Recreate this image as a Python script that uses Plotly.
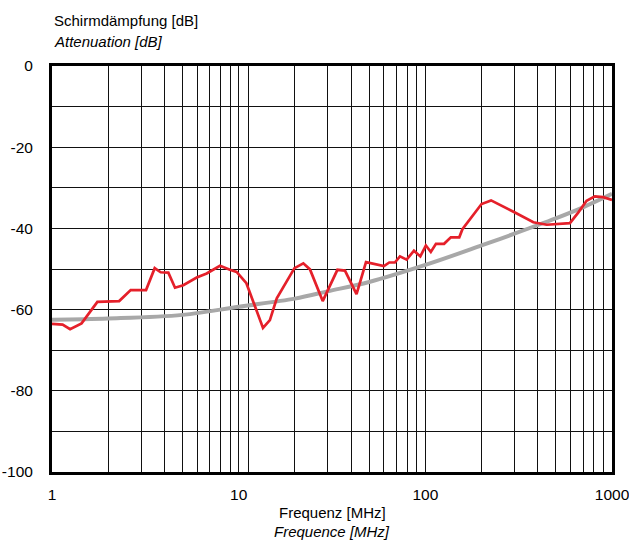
import plotly.graph_objects as go

# measured shielding attenuation (red)
freq_mhz = [1.0, 1.14, 1.25, 1.44, 1.75, 2.29, 2.64, 3.19, 3.55, 3.82, 4.2, 4.56, 5.05, 5.96,
            6.74, 7.94, 8.98, 9.75, 11.0, 13.5, 14.7, 16.0, 19.9, 22.2, 24.1, 28.2, 33.8,
            37.1, 42.8, 48.1, 60.0, 64.1, 68.7, 73.1, 79.4, 86.9, 94.0, 100.7, 107, 114,
            126, 137, 152, 158, 200, 225, 302, 379, 447, 595, 659, 731, 809, 897, 1000]
atten_db = [-63.5, -63.7, -64.8, -63.4, -58.1, -57.9, -55.2, -55.2, -49.8, -50.8, -50.9, -54.6,
            -54.0, -52.1, -51.1, -49.2, -50.2, -50.7, -53.5, -64.5, -62.6, -57.2, -49.8, -48.6,
            -50.1, -57.9, -50.2, -50.4, -56.2, -48.3, -49.3, -48.4, -48.4, -46.9, -47.7, -45.5,
            -46.9, -44.2, -45.8, -43.8, -43.8, -42.2, -42.2, -40.2, -34.0, -33.1, -36.1, -38.5,
            -39.1, -38.7, -36.1, -33.2, -32.1, -32.3, -33.0]

# reference curve (grey)
ref_freq = [1, 2, 5, 10, 20, 30, 50, 100, 200, 300, 500, 700, 1000]
ref_db = [-62.5, -62.2, -61.3, -59.3, -57.3, -55.5, -53.2, -49.0, -44.2, -41.3, -37.5, -34.8, -31.5]

# grid positions and labels
x_grid = [1, 2, 3, 4, 5, 6, 7, 8, 9, 10, 11.3, 20, 30, 40, 50, 60, 70, 80, 90,
          100, 200, 300, 400, 500, 600, 700, 800, 900, 1000]
x_labels = {1: "1", 10: "10", 100: "100", 1000: "1000"}
y_grid = [-100, -90, -80, -70, -60, -50, -40, -30, -20, -10, 0]
y_labels = {-100: "-100", -80: "-80", -60: "-60", -40: "-40", -20: "-20", 0: "0"}

FONT = "Liberation Sans, Arial, sans-serif"
FS = 15.5
FS_T = 15

fig = go.Figure()
fig.add_trace(go.Scatter(x=ref_freq, y=ref_db, mode="lines", line=dict(color="#a8a8a8", width=4, shape="spline"),
                         showlegend=False, hoverinfo="skip"))
fig.add_trace(go.Scatter(x=freq_mhz, y=atten_db, mode="lines", line=dict(color="#e5202a", width=2.7),
                         showlegend=False))

fig.update_xaxes(
    type="log", range=[0, 3], automargin=False,
    tickvals=x_grid, ticktext=[x_labels.get(v, "") for v in x_grid],
    showgrid=True, gridcolor="#111", gridwidth=1,
    ticks="", showline=True, linecolor="black", linewidth=3, mirror=True,
    tickfont=dict(family=FONT, size=FS, color="black"),
    ticklabelstandoff=6, ticklabeloverflow="allow", zeroline=False,
)
fig.update_yaxes(
    range=[-100, 0], automargin=False,
    tickvals=y_grid, ticktext=[y_labels.get(v, "") for v in y_grid],
    showgrid=True, gridcolor="#111", gridwidth=1,
    ticks="", showline=True, linecolor="black", linewidth=3, mirror=True,
    tickfont=dict(family=FONT, size=FS, color="black"),
    ticklabelstandoff=13, ticklabeloverflow="allow", zeroline=False,
)

fig.add_annotation(text="Schirmdämpfung [dB]", xref="x domain", yref="y domain", x=0, y=1,
                   xanchor="left", yanchor="middle", yshift=46, showarrow=False,
                   font=dict(family=FONT, size=FS_T, color="black"))
fig.add_annotation(text="<i>Attenuation [dB]</i>", xref="x domain", yref="y domain", x=0, y=1,
                   xanchor="left", yanchor="middle", yshift=25, showarrow=False,
                   font=dict(family=FONT, size=FS_T, color="black"))
fig.add_annotation(text="Frequenz [MHz]", xref="x domain", yref="y domain", x=0.5, y=0,
                   xanchor="center", yanchor="middle", yshift=-40, showarrow=False,
                   font=dict(family=FONT, size=FS_T, color="black"))
fig.add_annotation(text="<i>Frequence [MHz]</i>", xref="x domain", yref="y domain", x=0.5, y=0,
                   xanchor="center", yanchor="middle", yshift=-59, showarrow=False,
                   font=dict(family=FONT, size=FS_T, color="black"))

fig.update_layout(
    width=629, height=544,
    margin=dict(l=52, r=17, t=66, b=72),
    paper_bgcolor="white", plot_bgcolor="white",
    showlegend=False,
)

# drop the default 8px body margin so the figure fills the window exactly
fig.write_html("out.html", config={"displayModeBar": False},
               post_script="document.body.style.margin='0';document.body.style.overflow='hidden';")
